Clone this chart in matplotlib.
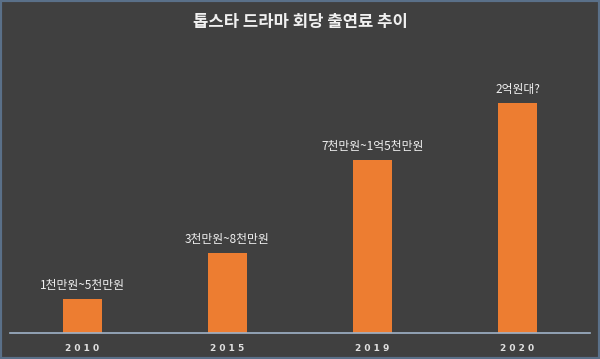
import matplotlib.pyplot as plt
from matplotlib.patches import Rectangle

plt.rcParams['font.family'] = ['Noto Sans CJK KR', 'DejaVu Sans']

years = ['2010', '2015', '2019', '2020']
fees = [1.48, 3.48, 7.5, 10.0]
labels = ['1천만원~5천만원', '3천만원~8천만원', '7천만원~1억5천만원', '2억원대?']

bg = '#404040'
fig = plt.figure(figsize=(6, 3.59), dpi=100, facecolor=bg)
ax = fig.add_axes([10 / 600, 26 / 359, 580 / 600, 230 / 359 / 0.97])
ax.set_facecolor(bg)

x = range(len(years))
bars = ax.bar(x, fees, width=0.275, color='#ED7D31')
for b, lab in zip(bars, labels):
    ax.text(b.get_x() + b.get_width() / 2, b.get_height() + 0.3, lab,
            ha='center', va='bottom', color='#f0f0f0', fontsize=8.5)

ax.set_xlim(-0.5, 3.5)
ax.set_ylim(0, 10.3)
ax.set_xticks(list(x))
ax.set_xticklabels([' '.join(y) for y in years], color='#e0e0e0',
                   fontsize=6.5, fontweight='semibold', family='DejaVu Sans')
ax.tick_params(axis='x', length=0, pad=8)
ax.set_yticks([])
for s in ['top', 'right', 'left']:
    ax.spines[s].set_visible(False)
ax.spines['bottom'].set_color('#9fb3c8')
ax.spines['bottom'].set_linewidth(1.2)

fig.text(0.5, 1 - 22 / 359, '톱스타 드라마 회당 출연료 추이', ha='center', va='center',
         color='#f0f0f0', fontsize=12, fontweight='bold')

fig.patches.append(Rectangle((0, 0), 1, 1, transform=fig.transFigure,
                             fill=False, edgecolor='#5a7089', linewidth=3))

fig.savefig('out.png', dpi=100, facecolor=bg)
